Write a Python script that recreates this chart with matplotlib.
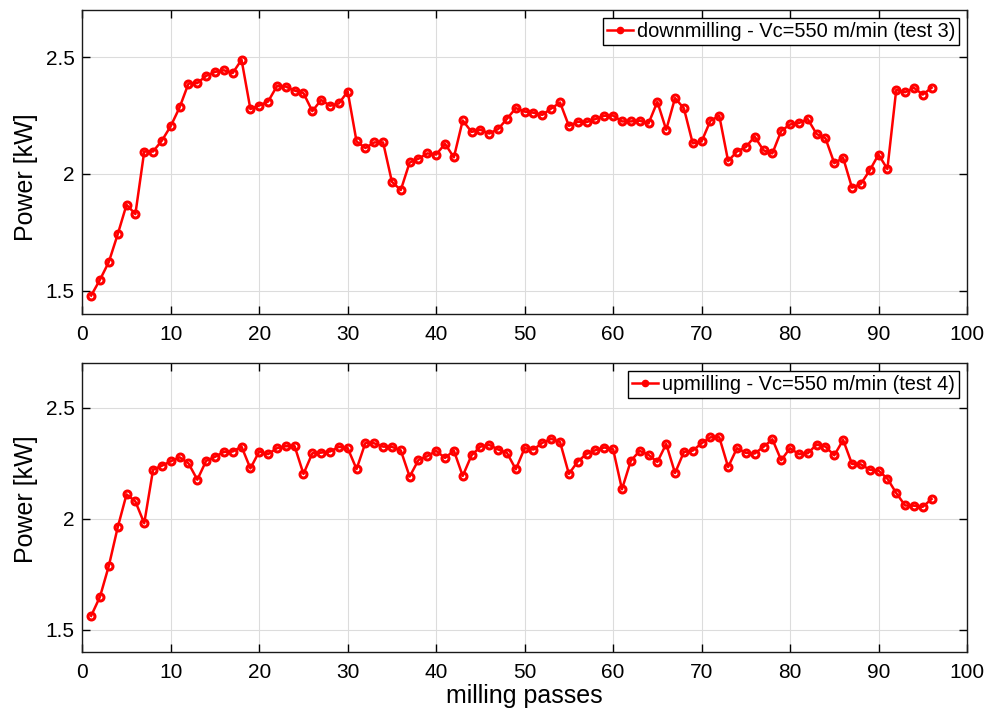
import matplotlib
matplotlib.use("Agg")
import matplotlib.pyplot as plt
from matplotlib.lines import Line2D

plt.rcParams['font.family'] = ['Liberation Sans', 'DejaVu Sans']

passes = list(range(1, 97))

down_power = [1.479, 1.547, 1.623, 1.741, 1.868, 1.828, 2.096, 2.096, 2.143, 2.205,
              2.285, 2.387, 2.389, 2.420, 2.437, 2.444, 2.432, 2.489, 2.278, 2.293,
              2.310, 2.376, 2.374, 2.357, 2.346, 2.269, 2.317, 2.292, 2.302, 2.353,
              2.139, 2.111, 2.135, 2.135, 1.966, 1.931, 2.049, 2.065, 2.088, 2.083,
              2.129, 2.071, 2.229, 2.180, 2.189, 2.173, 2.192, 2.236, 2.282, 2.267,
              2.262, 2.253, 2.280, 2.306, 2.206, 2.223, 2.222, 2.235, 2.249, 2.250,
              2.225, 2.225, 2.228, 2.216, 2.309, 2.189, 2.325, 2.281, 2.131, 2.139,
              2.228, 2.249, 2.055, 2.096, 2.115, 2.160, 2.101, 2.088, 2.184, 2.212,
              2.218, 2.235, 2.171, 2.153, 2.046, 2.069, 1.941, 1.957, 2.015, 2.083,
              2.021, 2.360, 2.350, 2.369, 2.340, 2.369]

up_power = [1.563, 1.649, 1.788, 1.961, 2.110, 2.078, 1.980, 2.221, 2.239, 2.259,
            2.277, 2.250, 2.176, 2.261, 2.279, 2.301, 2.303, 2.325, 2.227, 2.303,
            2.291, 2.318, 2.327, 2.327, 2.202, 2.295, 2.298, 2.303, 2.324, 2.318,
            2.224, 2.342, 2.340, 2.325, 2.324, 2.308, 2.190, 2.265, 2.282, 2.306,
            2.274, 2.307, 2.193, 2.286, 2.325, 2.333, 2.312, 2.297, 2.223, 2.318,
            2.312, 2.342, 2.360, 2.346, 2.202, 2.258, 2.292, 2.309, 2.321, 2.313,
            2.133, 2.261, 2.306, 2.288, 2.256, 2.337, 2.206, 2.301, 2.307, 2.340,
            2.367, 2.367, 2.233, 2.318, 2.297, 2.294, 2.324, 2.358, 2.264, 2.318,
            2.291, 2.295, 2.334, 2.325, 2.286, 2.355, 2.247, 2.245, 2.221, 2.217,
            2.181, 2.116, 2.060, 2.059, 2.054, 2.089]

labels = ['downmilling - Vc=550 m/min (test 3)', 'upmilling - Vc=550 m/min (test 4)']
x_ticks = list(range(0, 101, 10))
y_ticks = [1.5, 2.0, 2.5]
y_tick_labels = ['1.5', '2', '2.5']

fig = plt.figure(figsize=(10, 7.14), dpi=100)
ax1 = fig.add_axes([0.0823, 0.5602, 0.8847, 0.4251])
ax2 = fig.add_axes([0.0823, 0.0868, 0.8847, 0.4043])

for ax, data, lab, ly in [(ax1, down_power, labels[0], 0.451),
                          (ax2, up_power, labels[1], 0.53)]:
    ax.plot(passes, data, color='red', lw=1.8, marker='o', ms=5.0,
            mfc='none', mec='red', mew=2.2)
    ax.set_xlim(0, 100)
    ax.set_ylim(1.4, 2.7)
    ax.set_xticks(x_ticks)
    ax.set_yticks(y_ticks)
    ax.set_yticklabels(y_tick_labels)
    ax.grid(True, color='#dcdcdc', lw=0.8)
    ax.set_axisbelow(True)
    ax.tick_params(direction='in', top=True, right=True, labelsize=15,
                   length=6, width=1.0)
    ax.tick_params(axis='y', pad=5.5)
    ax.tick_params(axis='x', pad=8)
    for s in ax.spines.values():
        s.set_linewidth(1.0)
        s.set_color('#1a1a1a')
    ax.set_ylabel('Power [kW]', fontsize=18)
    ax.yaxis.set_label_coords(-0.050, ly)
    handle = Line2D([], [], color='red', lw=1.8, marker='o', ms=4.5,
                    mfc='red', mec='red')
    leg = ax.legend([handle], [lab], loc='upper right', fontsize=14.4,
                    fancybox=False, framealpha=1, edgecolor='black',
                    handlelength=1.3, handletextpad=0.2, borderpad=0.2,
                    borderaxespad=0.4)
    leg.get_frame().set_linewidth(1.0)

ax2.set_xlabel('milling passes', fontsize=18, labelpad=1)

fig.savefig('out.png', dpi=100)
